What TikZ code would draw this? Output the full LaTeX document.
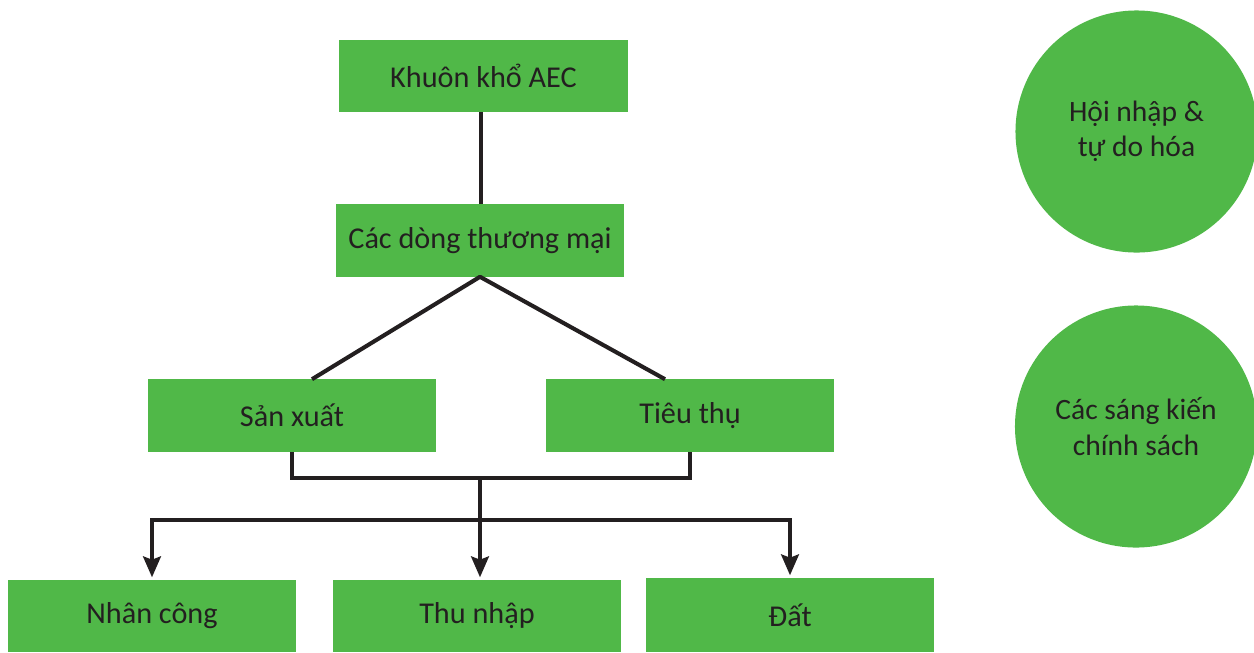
\documentclass[tikz,border=0pt]{standalone}
\usepackage{fontspec}
\setmainfont{Carlito}
\usetikzlibrary{arrows.meta}
\definecolor{boxgreen}{RGB}{80,184,72}
\definecolor{ink}{RGB}{35,31,32}

\begin{document}
\begin{tikzpicture}[x=0.025cm,y=-0.025cm,
  box/.style={fill=boxgreen,minimum width=7.2cm,minimum height=1.8cm,inner sep=0pt,text=ink,font=\fontsize{21.5}{25}\selectfont},
  ball/.style={circle,fill=boxgreen,minimum size=6.05cm,inner sep=0pt,text=ink,align=center,font=\fontsize{21}{25}\selectfont},
  link/.style={draw=ink,line width=2.9pt},
  arr/.style={link,-{Stealth[length=0.52cm,width=0.44cm,inset=0.08cm]}}]
 \useasboundingbox (0,0) rectangle (1254,652);
 \node[box] (aec) at (483.5,76) {Khuôn khổ AEC};
 \node[box] (dong) at (480,240.5) {Các dòng thương mại};
 \node[box] (sx) at (292,415.5) {Sản xuất};
 \node[box] (tieu) at (690,415.5) {Tiêu thụ};
 \node[box] (nc) at (152,616) {Nhân công};
 \node[box] (tn) at (477,616) {Thu nhập};
 \node[box,minimum height=1.85cm] (dat) at (790,615) {Đất};
 \node[ball] (hoi) at (1136.5,131.5) {Hội nhập \&\\tự do hóa};
 \node[ball] (cs) at (1136,426.5) {Các sáng kiến\\chính sách};
 \coordinate (join) at (480,478);
 \coordinate (bar) at (480,520);
 \draw[link] (aec.south -| 481,0) -- (dong.north -| 481,0);
 \draw[link,line join=round] ([xshift=0.5cm]sx.north) -- (dong.south) -- ([xshift=-0.625cm]tieu.north);
 \draw[link] (sx.south) -- (sx.south |- join) -- (tieu.south |- join) -- (tieu.south);
 \draw[arr] (join) -- ([yshift=0.06cm]tn.north -| join);
 \draw[arr] (bar) -| ([yshift=0.06cm]nc.north);
 \draw[arr] (bar) -| ([yshift=0.06cm]dat.north);
\end{tikzpicture}
\end{document}
